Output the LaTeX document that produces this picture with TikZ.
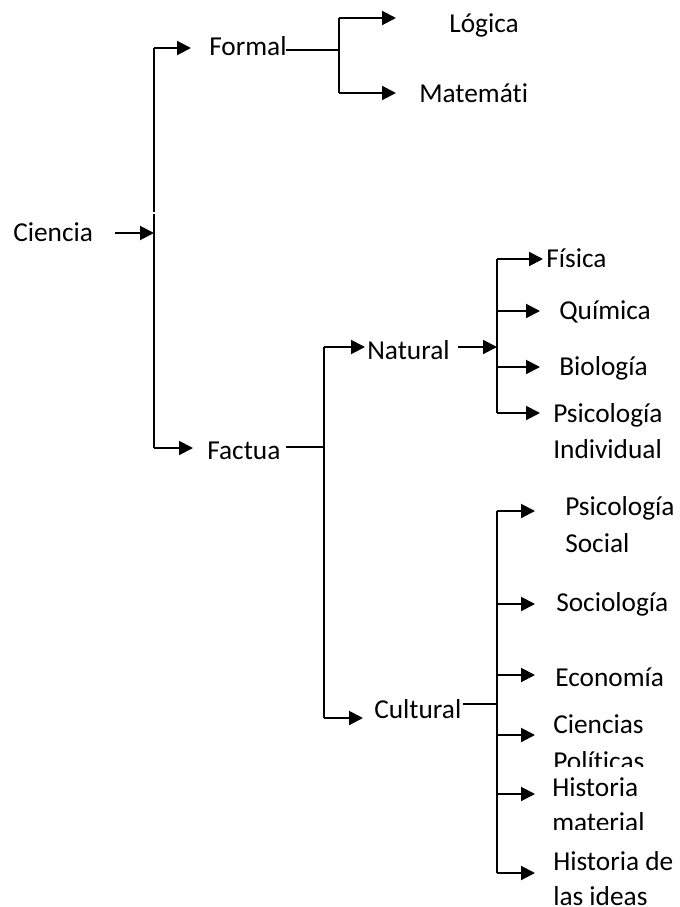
\documentclass[tikz,border=0pt]{standalone}
\usepackage{fontspec}
\setmainfont[Ligatures=NoCommon]{Carlito}
\usetikzlibrary{arrows.meta}
\begin{document}
\begin{tikzpicture}[x=0.75pt,y=-0.75pt,
  lbl/.style={anchor=base west,inner sep=0pt,font=\fontsize{20.5}{27}\selectfont},
  conn/.style={line width=1.5pt},
  arr/.style={conn,-{Triangle[length=10.5pt,width=10.5pt]}}]
\clip (0,0) rectangle (680,907);
\fill[white] (0,0) rectangle (680,907);

% labels
\node[lbl] (ciencia) at (13,241) {Ciencia};
\node[lbl] (formal) at (209,55) {Formal};
\node[lbl] (logica) at (449,32) {Lógica};
\node[lbl] (mate) at (419,102) {Matemáti};
\node[lbl] (factua) at (207,459) {Factua};
\node[lbl] (natural) at (367,359) {Natural};
\node[lbl] (fisica) at (546,267) {Física};
\node[lbl] (quimica) at (559,319) {Química};
\node[lbl] (biologia) at (559,375) {Biología};
\node[lbl] (psiA) at (553,422) {Psicología};
\node[lbl] (psiB) at (553,458) {Individual};
\node[lbl] (cultural) at (374,718) {Cultural};
\node[lbl] (psiSA) at (565,515) {Psicología};
\node[lbl] (psiSB) at (565,552) {Social};
\node[lbl] (socio) at (556,611) {Sociología};
\node[lbl] (econ) at (555,686) {Economía};
\node[lbl] (cienA) at (553,733) {Ciencias};
\begin{scope}
\clip (540,740) rectangle (680,766);
\node[lbl] (cienB) at (553,770) {Políticas};
\end{scope}
\node[lbl] (histA) at (552,796) {Historia};
\begin{scope}
\clip (540,805) rectangle (680,829);
\node[lbl] (histB) at (552,831) {material};
\end{scope}
\node[lbl] (hidA) at (553,870) {Historia de};
\node[lbl] (hidB) at (553,905) {las ideas};

% junction coordinates
\coordinate (c0) at (115,233);
\coordinate (m0) at (154,233);
\coordinate (mtop) at (154,48);
\coordinate (mgapA) at (154,212);
\coordinate (mgapB) at (154,214);
\coordinate (mbot) at (154,448);
\coordinate (tformal) at (191,48);
\coordinate (tfactua) at (193,448);
% formal branch
\coordinate (fA) at (286,50);
\coordinate (fB) at (339,50);
\coordinate (ftop) at (339,18);
\coordinate (fbot) at (339,93);
\coordinate (tlog) at (396,18);
\coordinate (tmat) at (396,93);
% factual branch
\coordinate (xA) at (286,447);
\coordinate (xB) at (324,447);
\coordinate (xtop) at (324,347);
\coordinate (xbot) at (324,718);
\coordinate (tnat) at (365,347);
\coordinate (tcul) at (363,718);
% natural branch
\coordinate (nA) at (458,347);
\coordinate (nB) at (497,347);
\coordinate (ntop) at (497,259);
\coordinate (nbot) at (497,413);
% cultural branch
\coordinate (kA) at (463,704);
\coordinate (kB) at (497,704);
\coordinate (ktop) at (497,511);
\coordinate (kbot) at (497,873);

% connectors
\draw[arr] (c0) -- (m0);
\draw[conn] (mgapA) -- (mtop);
\draw[arr] (mtop) -- (tformal);
\draw[conn] (mgapB) -- (mbot);
\draw[arr] (mbot) -- (tfactua);

\draw[conn] (fA) -- (fB);
\draw[conn] (ftop) -- (fbot);
\draw[arr] (ftop) -- (tlog);
\draw[arr] (fbot) -- (tmat);

\draw[conn] (xA) -- (xB);
\draw[conn] (xtop) -- (xbot);
\draw[arr] (xtop) -- (tnat);
\draw[arr] (xbot) -- (tcul);

\draw[arr] (nA) -- (nB);
\draw[conn] (ntop) -- (nbot);
\draw[arr] (ntop) -- (543,259);
\draw[arr] (497,311) -- (540,311);
\draw[arr] (497,367) -- (540,367);
\draw[arr] (nbot) -- (540,413);

\draw[conn] (kA) -- (kB);
\draw[conn] (ktop) -- (kbot);
\draw[arr] (ktop) -- (535,511);
\draw[arr] (497,604) -- (535,604);
\draw[arr] (497,675) -- (535,675);
\draw[arr] (497,735) -- (535,735);
\draw[arr] (497,794) -- (535,794);
\draw[arr] (kbot) -- (535,873);
\end{tikzpicture}
\end{document}
